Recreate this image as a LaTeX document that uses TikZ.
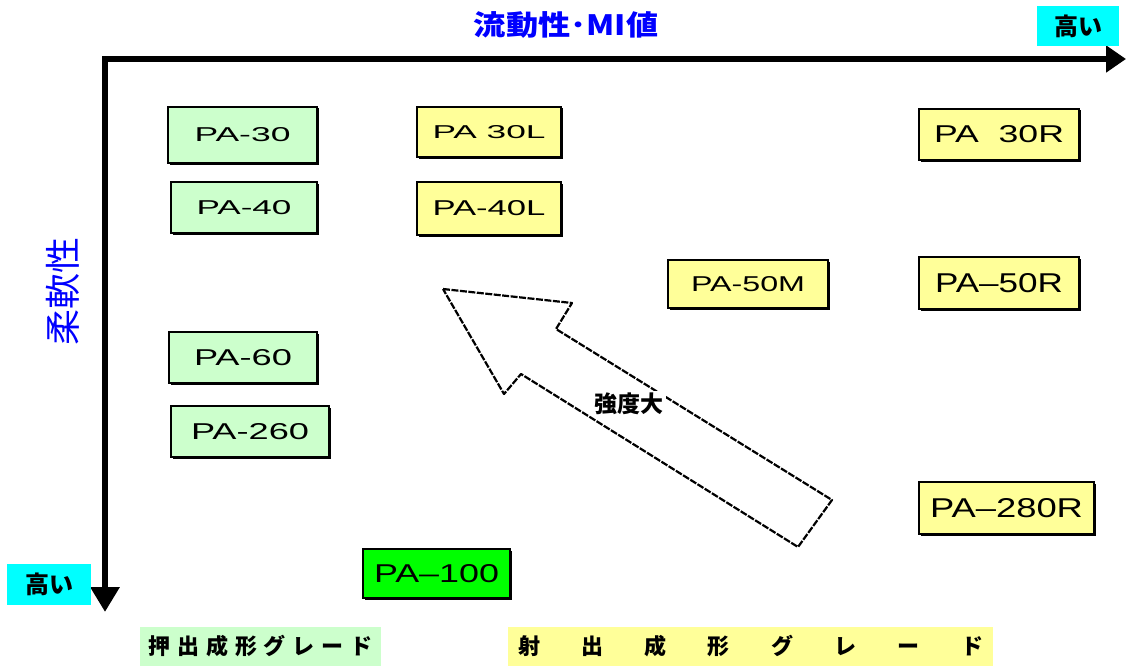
\documentclass[tikz,border=0pt]{standalone}
\usepackage{fontspec}
\setmainfont{Liberation Sans}
\newfontfamily\jp{Noto Sans CJK JP}
\usetikzlibrary{arrows.meta}
\definecolor{lgreen}{HTML}{CCFFCC}
\definecolor{lyellow}{HTML}{FFFF99}
\definecolor{bgreen}{HTML}{00FF00}
\definecolor{cyanbg}{HTML}{00FFFF}
\definecolor{axblue}{HTML}{0000FF}
% #1 = ink width, #2 = cap height, #3 = text
\newcommand{\patext}[3]{\resizebox{#1pt}{#2pt}{#3}}
\tikzset{
  pabox/.style={draw, line width=1.6pt, inner sep=0pt, outer sep=0pt,
    font=\fontsize{21}{21}\selectfont,
    preaction={fill=black, transform canvas={shift={(1.5,1.5)}}}},
  gbox/.style={pabox, fill=lgreen},
  ybox/.style={pabox, fill=lyellow},
  bbox/.style={pabox, fill=bgreen},
  hibox/.style={fill=cyanbg, inner sep=0pt, font=\jp\bfseries\fontsize{24}{24}\selectfont},
  axlabel/.style={text=axblue, font=\jp\bfseries\fontsize{28}{28}\selectfont, inner sep=0pt},
  gradelabel/.style={inner sep=0pt, font=\jp\bfseries\fontsize{22}{22}\selectfont},
  axisline/.style={line width=6.5pt, line join=miter,
    {Triangle[length=25pt,width=28pt]}-{Triangle[length=20pt,width=26pt]}},
  bigarrow/.style={line width=2.2pt, dash pattern=on 7pt off 1.5pt, line join=round}
}
\begin{document}
\begin{tikzpicture}[x=1pt,y=-1pt]
\useasboundingbox (0,0) rectangle (1126,666);

% axes
\coordinate (yend) at (105,612);
\coordinate (xend) at (1126,59);
\draw[axisline] (yend) |- (xend);

% axis labels
\node[axlabel] (title) at (566,25) {\scalebox{1.15}[1]{流動性･MI値}};
\node[axlabel, rotate=90, font=\jp\fontsize{36}{36}\selectfont] (ylab) at (63,291) {柔軟性};
\node[hibox, minimum width=82pt, minimum height=40pt] (hix) at (1078,26) {高い};
\node[hibox, minimum width=84pt, minimum height=41pt] (hiy) at (49,584.5) {高い};

% grade boxes
\node[gbox, minimum width=149pt, minimum height=56pt] (pa30) at (242.5,135) {\patext{96}{14}{PA-30}};
\node[gbox, minimum width=146pt, minimum height=51pt] (pa40) at (244,207.5) {\patext{95}{14}{PA-40}};
\node[gbox, minimum width=148pt, minimum height=51pt] (pa60) at (243,357.5) {\patext{98}{16}{PA-60}};
\node[gbox, minimum width=158pt, minimum height=51pt] (pa260) at (250,431.5) {\patext{118}{16}{PA-260}};
\node[bbox, minimum width=147pt, minimum height=49pt] (pa100) at (436.5,573.5) {\patext{125}{18}{PA–100}};
\node[ybox, minimum width=144pt, minimum height=50pt] (pa30L) at (489,132) {\patext{113}{13}{PA 30L}};
\node[ybox, minimum width=144pt, minimum height=53pt] (pa40L) at (489,208.5) {\patext{113}{15}{PA-40L}};
\node[ybox, minimum width=160pt, minimum height=48pt] (pa50M) at (748,284) {\patext{114}{15}{PA-50M}};
\node[ybox, minimum width=160pt, minimum height=51pt] (pa30R) at (999,134.5) {\patext{130}{17}{PA\ \ 30R}};
\node[ybox, minimum width=160pt, minimum height=52pt] (pa50R) at (999,283) {\patext{128}{19}{PA–50R}};
\node[ybox, minimum width=175pt, minimum height=52pt] (pa280R) at (1006.5,508) {\patext{153}{19}{PA–280R}};

% big hollow arrow
\draw[bigarrow] (443,289) -- (572,303) -- (556,329) -- (832,500) -- (798,547) -- (521,374) -- (504,394) -- cycle;
\node[fill=white, inner sep=2pt, font=\jp\bfseries\fontsize{23}{23}\selectfont] (strength) at (629,404) {強度大};

% grade labels
\node[gradelabel, fill=lgreen, minimum width=241pt, minimum height=39pt] (extr) at (260.5,646.5)
  {\makebox[224pt]{押\hfill 出\hfill 成\hfill 形\hfill グ\hfill レ\hfill ー\hfill ド}};
\node[gradelabel, fill=lyellow, minimum width=485pt, minimum height=39pt] (inj) at (750.5,646.5)
  {\makebox[465pt]{射\hfill 出\hfill 成\hfill 形\hfill グ\hfill レ\hfill ー\hfill ド}};
\end{tikzpicture}
\end{document}
